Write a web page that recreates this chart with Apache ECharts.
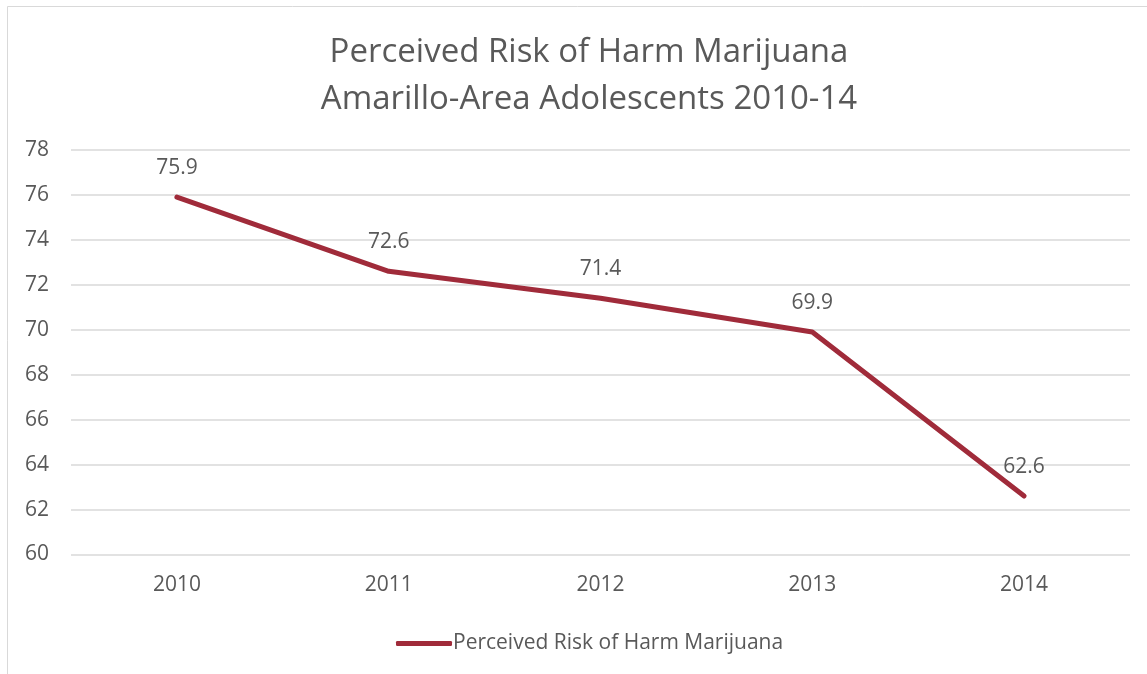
<!DOCTYPE html>
<html>
<head>
<meta charset="utf-8">
<script src="https://cdn.jsdelivr.net/npm/echarts@6/dist/echarts.min.js"></script>
<style>html,body{margin:0;padding:0;background:#fff}#c{width:1147px;height:674px}</style>
</head>
<body>
<div id="c"></div>
<script>
const titleLines = ['Perceived Risk of Harm Marijuana', 'Amarillo-Area Adolescents 2010-14'];
const years = ['2010', '2011', '2012', '2013', '2014'];
const seriesName = 'Perceived Risk of Harm Marijuana';
const values = [75.9, 72.6, 71.4, 69.9, 62.6];
const yMin = 60, yMax = 78, yStep = 2;

const font = '"Open Sans", "Noto Sans", sans-serif';
const textColor = '#595959';
const lineColor = '#A02B3A';

const chart = echarts.init(document.getElementById('c'));
chart.setOption({
  animation: false,
  backgroundColor: '#fff',
  graphic: [{
    type: 'rect', shape: {x: 7.5, y: 6.5, width: 1160, height: 700},
    style: {fill: 'none', stroke: '#D9D9D9', lineWidth: 1}, silent: true
  }],
  title: {
    text: titleLines.join('\n'),
    left: 584, top: 24, textAlign: 'center',
    textStyle: {fontFamily: font, fontSize: 33, fontWeight: 'normal', color: textColor, lineHeight: 47}
  },
  legend: {
    data: [seriesName], left: 391, top: 628,
    icon: 'roundRect', itemWidth: 56, itemHeight: 5, itemGap: 10,
    textStyle: {fontFamily: font, fontSize: 21, color: textColor, padding: [0, 0, 0, -4]}
  },
  grid: {left: 71, right: 17, top: 150, bottom: 119.5},
  xAxis: {
    type: 'category', data: years, boundaryGap: true,
    axisLine: {show: false}, axisTick: {show: false},
    axisLabel: {fontFamily: font, fontSize: 21, color: textColor, margin: 20}
  },
  yAxis: {
    type: 'value', min: yMin, max: yMax, interval: yStep,
    axisLine: {show: false}, axisTick: {show: false},
    axisLabel: {fontFamily: font, fontSize: 21, color: textColor, margin: 22},
    splitLine: {lineStyle: {color: '#D9D9D9', width: 1.5}}
  },
  series: [{
    name: seriesName, type: 'line', data: values,
    symbol: 'circle', symbolSize: 1, showSymbol: true,
    lineStyle: {color: lineColor, width: 5, cap: 'round', join: 'round'},
    itemStyle: {color: lineColor},
    label: {show: true, position: 'top', distance: 18, fontFamily: font, fontSize: 21, color: textColor}
  }]
});
</script>
</body>
</html>
